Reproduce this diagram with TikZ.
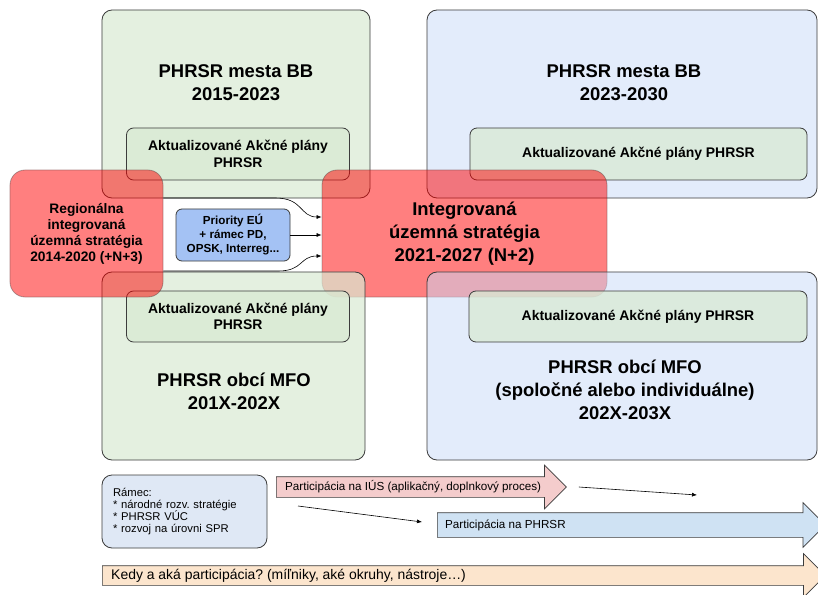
\documentclass[tikz,border=0pt]{standalone}
\usepackage{fontspec}
\setmainfont{Liberation Sans}
\usetikzlibrary{arrows.meta,shapes.arrows}
\definecolor{gboxc}{HTML}{D9EAD3}
\definecolor{bboxc}{HTML}{C9DAF8}
\definecolor{prioc}{HTML}{A4C2F4}
\definecolor{ramc}{HTML}{DFE8F5}
\definecolor{iusc}{HTML}{F4CCCC}
\definecolor{phrc}{HTML}{CFE2F3}
\definecolor{kedc}{HTML}{FCE5CD}
\definecolor{edgec}{HTML}{3C3C3C}
\frenchspacing

\begin{document}
\begin{tikzpicture}
[x=1bp,y=-1bp
,box/.style={draw=edgec,rounded corners=10bp,line width=0.8bp,inner sep=0pt}
,gbig/.style={box,fill=gboxc,fill opacity=0.7,text opacity=1}
,bbig/.style={box,fill=bboxc,fill opacity=0.5,text opacity=1}
,ap/.style={box,rounded corners=7bp,fill=gboxc,fill opacity=0.75,text opacity=1,align=center,font=\bfseries\fontsize{14}{16.5}\selectfont}
,strat/.style={box,rounded corners=15bp,fill=red,fill opacity=0.5,draw opacity=0.4,text opacity=1,align=center}
,ttl/.style={align=center,font=\bfseries\fontsize{18.5}{23}\selectfont}
,prbox/.style={box,rounded corners=6bp,fill=prioc,align=center,font=\bfseries\fontsize{11.7}{14}\selectfont}
,conn/.style={-{Latex[length=5bp,width=4bp]},line width=0.6bp}
,barrow/.style={single arrow,anchor=tail,draw=edgec,line width=0.7bp,single arrow head indent=0pt,inner xsep=0pt}
,btext/.style={anchor=west,inner sep=0pt,font=\fontsize{11.7}{14}\selectfont}
]
\fill[white] (0,0) rectangle (818,595);
\useasboundingbox (0,0) rectangle (818,595);
\node[gbig,minimum width=268bp,minimum height=188bp] (mesto1) at (236,104) {};
\node[bbig,minimum width=390bp,minimum height=188bp] (mesto2) at (622,104) {};
\node[ttl] (mesto1t) at (236,83) {PHRSR mesta BB\\2015-2023};
\node[ttl] (mesto2t) at (624,83) {PHRSR mesta BB\\2023-2030};
\node[ap,minimum width=223bp,minimum height=52bp] (ap1) at (238,154) {Aktualizované Akčné plány\\PHRSR};
\node[ap,minimum width=337bp,minimum height=52bp] (ap2) at (638.5,154) {Aktualizované Akčné plány PHRSR};
\node[strat,minimum width=285bp,minimum height=127bp,font=\bfseries\fontsize{18.5}{23}\selectfont] (irs) at (464.5,233.5) {Integrovaná\\územná stratégia\\2021-2027 (N+2)};
\node[gbig,minimum width=263bp,minimum height=188bp] (obce1) at (233.5,366) {};
\node[bbig,minimum width=390bp,minimum height=188bp] (obce2) at (622,366) {};
\node[ttl] (obce1t) at (234,391) {PHRSR obcí MFO\\201X-202X};
\node[ttl] (obce2t) at (625,390) {PHRSR obcí MFO\\(spoločné alebo individuálne)\\202X-203X};
\node[ap,minimum width=223bp,minimum height=51bp] (ap3) at (238,316.5) {Aktualizované Akčné plány\\PHRSR};
\node[ap,minimum width=338bp,minimum height=51bp] (ap4) at (638,316.5) {Aktualizované Akčné plány PHRSR};
\node[strat,minimum width=153bp,minimum height=127bp,font=\bfseries\fontsize{13.8}{16}\selectfont] (regio) at (86.5,233.5) {Regionálna\\integrovaná\\územná stratégia\\2014-2020 (+N+3)};
\node[prbox,minimum width=114bp,minimum height=52bp] (prio) at (233,235) {Priority EÚ\\+ rámec PD,\\OPSK, Interreg...};
\draw[conn] ([yshift=35.5bp]regio.east) -- ++(112,0) .. controls +(28,0) and +(-22,0) .. ([yshift=16.5bp]irs.west);
\draw[conn] (prio.east) -- (prio.east -| irs.west);
\draw[conn] ([yshift=-37.5bp]regio.east) -- ++(115,0) .. controls +(25,0) and +(-22,0) .. ([yshift=-22.5bp]irs.west);
\node[box,fill=ramc,minimum width=165bp,minimum height=73bp,text width=143bp,inner xsep=11bp,align=left,font=\fontsize{11.3}{12.3}\selectfont] (ramec) at (184.5,511.5) {Rámec:\\\relax* národné rozv. stratégie\\\relax* PHRSR VÚC\\\relax* rozvoj na úrovni SPR};
\node[barrow,fill=iusc,inner ysep=10bp,single arrow head extend=11.5bp,minimum height=290bp] (ius) at (276,487) {};
\node[btext] at ([xshift=9bp]ius.tail) {Participácia na IÚS (aplikačný, doplnkový proces)};
\node[barrow,fill=phrc,inner ysep=12bp,single arrow head extend=10bp,minimum height=388bp] (phrsr) at (437,525) {};
\node[btext] at ([xshift=8bp]phrsr.tail) {Participácia na PHRSR};
\node[barrow,fill=kedc,inner ysep=9.5bp,single arrow head extend=12bp,minimum height=723bp] (kedy) at (102,575.5) {};
\node[btext,font=\fontsize{14}{16}\selectfont] at ([xshift=9bp]kedy.tail) {Kedy a aká participácia? (míľniky, aké okruhy, nástroje…)};
\coordinate (e1) at (697,495);
\coordinate (s2) at (298,506);
\coordinate (e2) at (422,522);
\draw[conn] ([xshift=12bp]ius.tip) -- (e1);
\draw[conn] (s2) -- (e2);
\end{tikzpicture}
\end{document}
